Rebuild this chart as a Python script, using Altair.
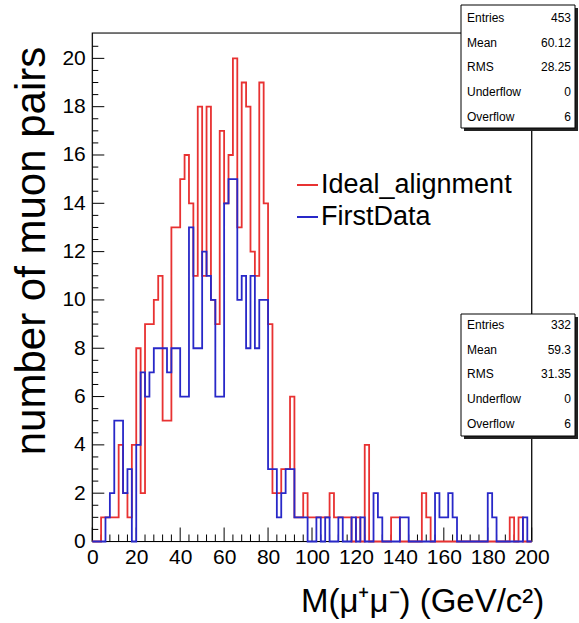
import altair as alt
import pandas as pd

# ---------------- data ----------------
bin_low_edges = list(range(0, 200, 2))          # 100 bins of 2 GeV
red_counts = [
    0, 0, 1, 1, 1, 1, 4, 2, 1, 4,
    8, 2, 9, 9, 10, 11, 5, 5, 13, 13,
    15, 16, 14, 11, 18, 11, 18, 10, 9, 17,
    14, 16, 20, 13, 19, 18, 12, 11, 19, 14,
    9, 2, 2, 3, 3, 6, 1, 1, 2, 1,
    1, 1, 1, 1, 2, 1, 1, 1, 1, 0,
    1, 0, 4, 0, 0, 0, 0, 0, 1, 1,
    0, 0, 0, 0, 0, 2, 1, 0, 0, 0,
    0, 0, 0, 0, 0, 0, 0, 0, 0, 0,
    0, 0, 0, 0, 0, 1, 0, 1, 0, 0,
]
blue_counts = [
    0, 0, 0, 1, 2, 5, 5, 2, 3, 0,
    4, 7, 6, 7, 8, 8, 8, 7, 8, 8,
    6, 6, 13, 8, 8, 12, 11, 10, 6, 6,
    14, 15, 15, 10, 11, 8, 11, 8, 10, 10,
    3, 3, 1, 2, 3, 3, 1, 1, 1, 0,
    0, 1, 0, 1, 0, 0, 1, 0, 0, 1,
    0, 1, 0, 0, 2, 1, 0, 0, 0, 0,
    1, 1, 0, 0, 0, 0, 0, 0, 2, 1,
    1, 2, 1, 0, 0, 0, 0, 0, 0, 0,
    2, 1, 0, 0, 0, 0, 0, 0, 1, 0,
]
series_names = ["Ideal_alignment", "FirstData"]
stat_labels = ["Entries", "Mean", "RMS", "Underflow", "Overflow"]
stat_red = ["453", "60.12", "28.25", "0", "6"]
stat_blue = ["332", "59.3", "31.35", "0", "6"]
x_label_values = list(range(0, 201, 20))
x_minor_ticks = [v for v in range(0, 201, 4) if v % 20 != 0]
y_label_values = list(range(0, 21, 2))
y_minor_ticks = [v / 2 for v in range(0, 42) if v % 4 != 0]
x_title = "M(\u03bc\u207a\u03bc\u207b) (GeV/c\u00b2)"
y_title = "number of muon pairs"

# ---------------- layout ----------------
OX, OY = 92.3, 33.0          # plot origin in the page
W, H = 439.4, 508.5
FONT = "Liberation Sans"
RED = "#e83232"
BLUE = "#2828c8"


def px(x):
    return x - OX


def py(y):
    return y - OY


def step_frame(counts):
    xs = bin_low_edges + [200]
    ys = counts + [counts[-1]]
    return pd.DataFrame({"x": xs, "y": ys})


xs = alt.Scale(domain=[0, 200], nice=False, zero=False)
ys = alt.Scale(domain=[0, 21.05], nice=False, zero=False)
xaxis = alt.Axis(values=x_label_values, title=None, grid=False, domain=False,
                 ticks=False, labelFontSize=21, labelFont=FONT, labelColor="black",
                 labelPadding=5, format="d", labelOverlap=False, labelFlush=False,
                 labelBound=False)
yaxis = alt.Axis(values=y_label_values, title=None, grid=False, domain=False,
                 ticks=False, labelFontSize=21, labelFont=FONT, labelColor="black",
                 labelPadding=7, format="d", labelOverlap=False, labelFlush=False,
                 labelBound=False)
X = alt.X("x:Q", scale=xs, axis=xaxis)
Y = alt.Y("y:Q", scale=ys, axis=yaxis)

layers = []

# frame
layers.append(alt.Chart(pd.DataFrame({"a": [0]})).mark_rect(
    fill=None, stroke="black", strokeWidth=1.2).encode(
    x=alt.value(0), x2=alt.value(W), y=alt.value(0), y2=alt.value(H)))

# inward ticks
layers.append(alt.Chart(pd.DataFrame({"x": x_label_values})).mark_rule(
    color="black", strokeWidth=1).encode(x=X, y=alt.value(H), y2=alt.value(H - 14)))
layers.append(alt.Chart(pd.DataFrame({"x": x_minor_ticks})).mark_rule(
    color="black", strokeWidth=1).encode(x=X, y=alt.value(H), y2=alt.value(H - 7)))
layers.append(alt.Chart(pd.DataFrame({"y": y_label_values})).mark_rule(
    color="black", strokeWidth=1).encode(y=Y, x=alt.value(0), x2=alt.value(12)))
layers.append(alt.Chart(pd.DataFrame({"y": y_minor_ticks})).mark_rule(
    color="black", strokeWidth=1).encode(y=Y, x=alt.value(0), x2=alt.value(6)))

# histograms
layers.append(alt.Chart(step_frame(red_counts)).mark_line(
    interpolate="step-after", color=RED, strokeWidth=1.8).encode(x=X, y=Y))
layers.append(alt.Chart(step_frame(blue_counts)).mark_line(
    interpolate="step-after", color=BLUE, strokeWidth=1.8).encode(x=X, y=Y))

# legend
for name, col, yy in [(series_names[0], RED, 185), (series_names[1], BLUE, 217)]:
    layers.append(alt.Chart(pd.DataFrame({"a": [0]})).mark_rule(
        color=col, strokeWidth=2).encode(
        x=alt.value(px(297)), x2=alt.value(px(318)), y=alt.value(py(yy))))
    layers.append(alt.Chart(pd.DataFrame({"a": [0]})).mark_text(
        align="left", baseline="middle", font=FONT, fontSize=27, color="black").encode(
        x=alt.value(px(321)), y=alt.value(py(yy)), text=alt.value(name)))

# stat boxes
def stat_box(top, bottom, values, rows):
    out = []
    left, right = 461, 575
    out.append(alt.Chart(pd.DataFrame({"a": [0]})).mark_rect(fill="#222222").encode(
        x=alt.value(px(left + 3)), x2=alt.value(px(right + 3)),
        y=alt.value(py(top + 3)), y2=alt.value(py(bottom + 3))))
    out.append(alt.Chart(pd.DataFrame({"a": [0]})).mark_rect(
        fill="white", stroke="black", strokeWidth=1).encode(
        x=alt.value(px(left)), x2=alt.value(px(right)),
        y=alt.value(py(top)), y2=alt.value(py(bottom))))
    for lab, val, yy in zip(stat_labels, values, rows):
        out.append(alt.Chart(pd.DataFrame({"a": [0]})).mark_text(
            align="left", baseline="middle", font=FONT, fontSize=12, color="black").encode(
            x=alt.value(px(467)), y=alt.value(py(yy)), text=alt.value(lab)))
        out.append(alt.Chart(pd.DataFrame({"a": [0]})).mark_text(
            align="right", baseline="middle", font=FONT, fontSize=12, color="black").encode(
            x=alt.value(px(571)), y=alt.value(py(yy)), text=alt.value(val)))
    return out

layers += stat_box(5, 128, stat_red, [17.5, 42.5, 67, 92, 116.5])
layers += stat_box(314, 436, stat_blue, [325, 349.5, 373.5, 398.5, 423.5])

# axis titles
layers.append(alt.Chart(pd.DataFrame({"a": [0]})).mark_text(
    align="left", baseline="middle", font=FONT, fontSize=33, color="black").encode(
    x=alt.value(px(301)), y=alt.value(py(602)), text=alt.value(x_title)))
layers.append(alt.Chart(pd.DataFrame({"a": [0]})).mark_text(
    align="center", baseline="middle", font=FONT, fontSize=42, color="black", angle=270).encode(
    x=alt.value(px(32)), y=alt.value(py(251)), text=alt.value(y_title)))

chart = alt.layer(*layers).properties(
    width=W, height=H,
    autosize=alt.AutoSizeParams(type="none"),
    padding={"left": OX, "top": OY, "right": 579 - OX - W, "bottom": 623 - OY - H},
).configure_view(stroke=None).configure(background="white")

chart.save("out.html", embed_options={"renderer": "svg", "actions": False})
